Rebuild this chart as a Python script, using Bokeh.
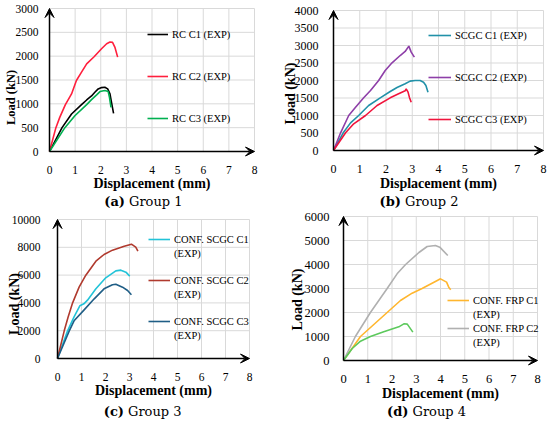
import math
from bokeh.plotting import figure
from bokeh.layouts import gridplot
from bokeh.models import Range1d, FixedTicker, Arrow, VeeHead, Legend, LegendItem, Label
from bokeh.embed import file_html
from bokeh.resources import INLINE

FONT = "Liberation Serif"
CAP_FONT = "DejaVu Serif"

x_ticks = [0, 1, 2, 3, 4, 5, 6, 7, 8]
x_label = "Displacement (mm)"
y_label = "Load (kN)"

# ---- Group 1 ----
g1_ticks = [0, 500, 1000, 1500, 2000, 2500, 3000]
g1_c1_x = [0, 0.49, 0.86, 1.25, 1.45, 1.64, 1.77, 1.9, 2.03, 2.16, 2.27, 2.36, 2.42, 2.5]
g1_c1_y = [0, 500, 786, 983, 1081, 1166, 1243, 1313, 1341, 1348, 1313, 1208, 1032, 800]
g1_c2_x = [0, 0.25, 0.4, 0.62, 0.86, 1.05, 1.25, 1.45, 1.74, 2.03, 2.23, 2.36, 2.46, 2.55, 2.66]
g1_c2_y = [0, 500, 716, 983, 1208, 1489, 1664, 1840, 1987, 2156, 2261, 2296, 2289, 2191, 1980]
g1_c3_x = [0, 0.6, 0.99, 1.45, 1.64, 1.84, 1.97, 2.16, 2.29, 2.34, 2.4]
g1_c3_y = [0, 500, 750, 983, 1088, 1187, 1257, 1278, 1257, 1138, 927]
g1_labels = [["RC C1 (EXP)"], ["RC C2 (EXP)"], ["RC C3 (EXP)"]]

# ---- Group 2 ----
g2_ticks = [0, 500, 1000, 1500, 2000, 2500, 3000, 3500, 4000]
g2_c1_x = [0, 0.37, 0.65, 0.96, 1.34, 1.78, 2.16, 2.42, 2.73, 2.92, 3.11, 3.3, 3.43, 3.52, 3.6]
g2_c1_y = [0, 505, 790, 1000, 1286, 1505, 1686, 1800, 1905, 1981, 2000, 2000, 1952, 1857, 1667]
g2_c2_x = [0, 0.27, 0.58, 0.84, 1.15, 1.41, 1.72, 1.97, 2.23, 2.54, 2.73, 2.87, 2.96, 3.08]
g2_c2_y = [0, 505, 1000, 1238, 1505, 1714, 2000, 2286, 2505, 2714, 2829, 2981, 2810, 2667]
g2_c3_x = [0, 0.46, 0.77, 1.22, 1.66, 2.16, 2.48, 2.73, 2.77, 2.84, 2.89, 2.96]
g2_c3_y = [0, 505, 762, 1000, 1286, 1505, 1619, 1705, 1762, 1667, 1524, 1381]
g2_labels = [["SCGC C1 (EXP)"], ["SCGC C2 (EXP)"], ["SCGC C3 (EXP)"]]

# ---- Group 3 ----
g3_ticks = [0, 2000, 4000, 6000, 8000, 10000]
g3_c1_x = [0, 0.42, 0.69, 0.93, 1.1, 1.25, 1.6, 2.01, 2.43, 2.64, 2.85, 3.01]
g3_c1_y = [0, 1990, 2998, 3789, 3933, 4197, 5012, 5803, 6307, 6355, 6211, 5923]
g3_c2_x = [0, 0.28, 0.44, 0.63, 0.9, 1.18, 1.6, 1.94, 2.29, 2.78, 3.08, 3.26, 3.35]
g3_c2_y = [0, 1990, 2974, 4005, 5132, 5995, 7002, 7482, 7794, 8082, 8225, 8010, 7722]
g3_c3_x = [0, 0.49, 0.69, 1.11, 1.53, 1.94, 2.29, 2.43, 2.71, 2.92, 3.08]
g3_c3_y = [0, 1990, 2710, 3501, 4293, 5012, 5300, 5348, 5132, 4892, 4580]
g3_labels = [["CONF. SCGC C1", "(EXP)"], ["CONF. SCGC C2", "(EXP)"], ["CONF. SCGC C3", "(EXP)"]]

# ---- Group 4 ----
g4_ticks = [0, 1000, 2000, 3000, 4000, 5000, 6000]
g4_c1_x = [0, 0.7, 1.25, 1.8, 2.35, 2.83, 3.24, 3.79, 4.0, 4.25, 4.34, 4.42]
g4_c1_y = [0, 1000, 1500, 2000, 2500, 2806, 3000, 3292, 3403, 3264, 3056, 2950]
g4_c2_x = [0, 0.49, 1.11, 1.8, 2.21, 2.56, 3.11, 3.45, 3.79, 3.97, 4.3]
g4_c2_y = [0, 1000, 2000, 3000, 3611, 4000, 4500, 4750, 4792, 4722, 4375]
g4_c3_x = [0, 0.36, 0.7, 1.11, 1.66, 2.28, 2.49, 2.63, 2.86]
g4_c3_y = [0, 500, 806, 1000, 1194, 1403, 1528, 1514, 1181]
g4_labels = [["CONF. FRP C1", "(EXP)"], ["CONF. FRP C2", "(EXP)"]]


def txt(p, x, y, text, size, bold=False, align="center", baseline="middle", angle=0.0, font=FONT):
    p.add_layout(Label(x=x, y=y, x_units="screen", y_units="screen", text=text,
                       text_font=font, text_font_size=size,
                       text_font_style="bold" if bold else "normal",
                       text_align=align, text_baseline=baseline, angle=angle,
                       text_color="black"))


def add_legend(p, H, entries, gx, top, spacing, lh, gw):
    items = [LegendItem(label=lab, renderers=([r] if r is not None else [])) for lab, r in entries]
    n = len(items)
    bottom = top + n * lh + (n - 1) * spacing
    leg = Legend(items=items, location=(gx, H - bottom), background_fill_alpha=0,
                 border_line_color=None, padding=0, margin=0, spacing=int(spacing),
                 label_height=int(lh), glyph_height=int(lh), glyph_width=int(gw),
                 label_standoff=4, label_text_font=FONT, label_text_font_size="10.5px",
                 label_text_color="black")
    p.add_layout(leg)


def make_panel(W, H, frame, yticks, series, colors, tick_size, ystand,
               ylab_pos, ylab_size, xlab_gap, cap_letter, cap_text, cap_cx, cap_cy):
    L, R, T, B = frame
    fw, fh = R - L, B - T
    xmax, ymax = x_ticks[-1], yticks[-1]
    xr = Range1d(-L / fw * xmax, xmax + (W - R) / fw * xmax)
    yr = Range1d(-(H - B) / fh * ymax, ymax + T / fh * ymax)
    p = figure(width=W, height=H, output_backend="svg", toolbar_location=None, title=None,
               x_range=xr, y_range=yr, min_border=0)
    p.outline_line_color = None
    p.background_fill_color = "white"
    p.grid.visible = False

    # light grid restricted to the data area
    p.segment(x0=x_ticks, y0=[yticks[0]] * len(x_ticks), x1=x_ticks, y1=[ymax] * len(x_ticks),
              line_color="#d9d9d9", line_width=1)
    p.segment(x0=[x_ticks[0]] * len(yticks), y0=yticks, x1=[xmax] * len(yticks), y1=yticks,
              line_color="#d9d9d9", line_width=1)

    p.xaxis.ticker = FixedTicker(ticks=x_ticks)
    p.yaxis.ticker = FixedTicker(ticks=yticks)
    p.xaxis.fixed_location = 0
    p.yaxis.fixed_location = 0
    for ax in (p.xaxis[0], p.yaxis[0]):
        ax.axis_line_color = None
        ax.major_tick_line_color = None
        ax.minor_tick_line_color = None
        ax.major_label_text_font = FONT
        ax.major_label_text_font_size = tick_size
        ax.major_label_text_color = "black"
    p.xaxis.major_label_standoff = 8
    p.yaxis.major_label_standoff = ystand

    rends = []
    for (xs, ys), c in zip(series, colors):
        rends.append(p.line(xs, ys, line_color=c, line_width=1.6))

    for xe, ye in ((xmax, yticks[0]), (x_ticks[0], ymax)):
        p.add_layout(Arrow(end=VeeHead(size=9, fill_color="black", line_color="black", line_width=1),
                           x_start=x_ticks[0], y_start=yticks[0], x_end=xe, y_end=ye,
                           line_color="black", line_width=1.5))

    # axis titles and caption
    txt(p, (L + R) / 2, H - B - xlab_gap, x_label, "14px", bold=True)
    txt(p, ylab_pos[0], H - ylab_pos[1], y_label, ylab_size, bold=True, angle=math.pi / 2)
    txt(p, cap_cx - 18, H - cap_cy, cap_letter, "13px", bold=True, align="right", font=CAP_FONT)
    txt(p, cap_cx - 14, H - cap_cy, cap_text, "13px", align="left", font=CAP_FONT)
    return p, rends


# (a)
p1, r1 = make_panel(275, 210, (49, 254, 8, 151), g1_ticks,
                    [(g1_c1_x, g1_c1_y), (g1_c2_x, g1_c2_y), (g1_c3_x, g1_c3_y)],
                    ["#000000", "#FF1F3D", "#00B050"], "11.5px", 5,
                    (10, 97), "12.5px", 32, "(a)", "Group 1", 142.5, 200.5)
add_legend(p1, 210, [(g1_labels[i][0], r1[i]) for i in range(3)], 147, 27, 28, 14, 21)

# (b)
p2, r2 = make_panel(275, 210, (58, 268, 10, 150), g2_ticks,
                    [(g2_c1_x, g2_c1_y), (g2_c2_x, g2_c2_y), (g2_c3_x, g2_c3_y)],
                    ["#2191A8", "#8E3FA8", "#F0143C"], "12px", 9,
                    (15, 93), "14px", 33, "(b)", "Group 2", 143.5, 200.5)
add_legend(p2, 210, [(g2_labels[i][0], r2[i]) for i in range(3)], 153, 28, 28, 14, 23)

# (c)
p3, r3 = make_panel(275, 211, (57, 249, 9, 148), g3_ticks,
                    [(g3_c1_x, g3_c1_y), (g3_c2_x, g3_c2_y), (g3_c3_x, g3_c3_y)],
                    ["#22C3D8", "#B03A2E", "#1F5E86"], "11.5px", 11,
                    (14, 93.5), "14px", 32, "(c)", "Group 3", 141.5, 201)
for i, top in enumerate([22, 63, 104]):
    add_legend(p3, 211, [(g3_labels[i][0], r3[i]), (g3_labels[i][1], None)], 148, top, 0, 14, 22)

# (d)
p4, r4 = make_panel(275, 211, (68, 262, 6, 150), g4_ticks,
                    [(g4_c1_x, g4_c1_y), (g4_c2_x, g4_c2_y), (g4_c3_x, g4_c3_y)],
                    ["#FFB62E", "#B0B0B0", "#5CC95C"], "12.5px", 8,
                    (21.5, 89), "14px", 33, "(d)", "Group 4", 151, 201)
add_legend(p4, 211, [(g4_labels[0][0], r4[0]), (g4_labels[0][1], None),
                     (g4_labels[1][0], r4[1]), (g4_labels[1][1], None)], 172, 83, 0, 14, 22)

grid = gridplot([[p1, p2], [p3, p4]], toolbar_location=None)
open("out.html", "w").write(file_html(grid, INLINE))
